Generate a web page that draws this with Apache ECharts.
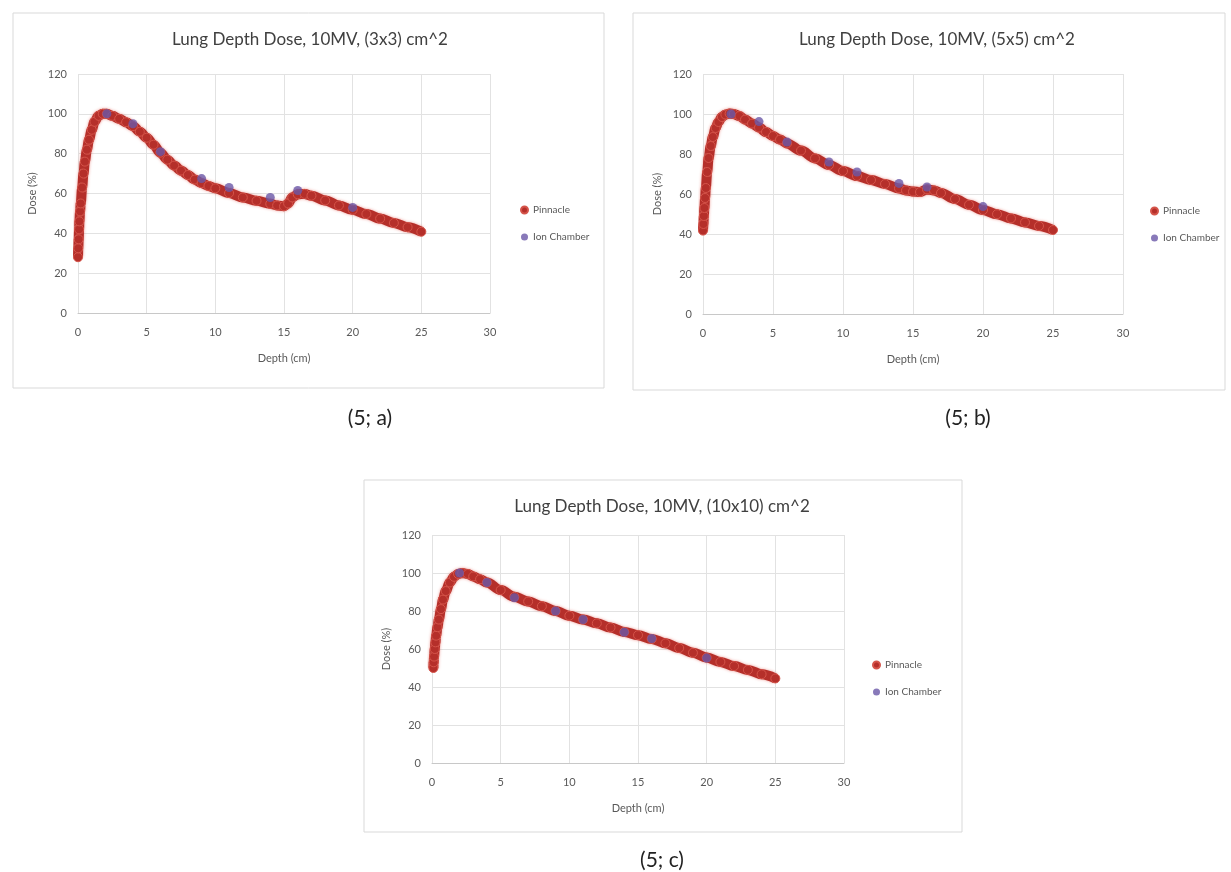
<!DOCTYPE html>
<html>
<head>
<meta charset="utf-8">
<script src="https://cdn.jsdelivr.net/npm/echarts@6/dist/echarts.min.js"></script>
<style>
  html, body { margin: 0; padding: 0; background: #fff; }
  #main { width: 1231px; height: 872px; }
</style>
</head>
<body>
<div id="main"></div>
<script>
// 读图得到的数据 (深度 cm, 剂量 %)
var depthA = [0, 0.02, 0.05, 0.08, 0.1, 0.15, 0.2, 0.3, 0.4, 0.5, 0.65, 0.8, 1.0, 1.2, 1.5, 1.8, 2.1, 2.5, 3, 3.5, 4, 4.5, 5, 5.5, 6, 6.5, 7, 7.5, 8, 8.5, 9, 9.5, 10, 11, 12, 13, 14, 14.5, 15, 15.3, 15.6, 16, 16.5, 17, 18, 19, 20, 21, 22, 23, 24, 25];
var doseA = [28, 32.5, 37, 42, 46, 51, 55, 63, 70, 76, 82, 87, 92, 96, 99, 100, 100, 99, 97.5, 95.8, 93.8, 91, 88, 84.5, 80.5, 77, 74, 71.5, 69.3, 67, 65.2, 63.8, 62.6, 60.2, 58, 56.3, 54.8, 54, 53.6, 55, 58, 59.6, 59.8, 58.9, 56.5, 54, 51.8, 49.7, 47.4, 45.2, 43.1, 40.8];
var ionDepthA = [2.1, 4, 6, 9, 11, 14, 16, 20];
var ionDoseA = [100, 95, 81, 67.5, 63, 58, 61.5, 53];

var depthB = [0, 0.03, 0.06, 0.1, 0.15, 0.2, 0.3, 0.4, 0.55, 0.7, 0.9, 1.1, 1.35, 1.6, 1.9, 2.2, 2.6, 3, 3.5, 4, 4.5, 5, 5.5, 6, 7, 8, 9, 10, 11, 12, 13, 14, 14.5, 15, 15.5, 16, 16.5, 17, 18, 19, 20, 21, 22, 23, 24, 25];
var doseB = [41.7, 45, 49, 53, 58, 63, 71, 78, 84, 88.5, 93, 96, 98.5, 99.7, 100.2, 100, 99, 97.2, 95.2, 93.2, 91, 89, 87.2, 85.3, 81.7, 77.8, 74.5, 71.5, 69, 67, 65, 62.8, 61.8, 61.2, 61, 62.3, 61.8, 60.5, 57.5, 54.6, 52, 49.9, 47.8, 45.8, 44, 42];
var ionDepthB = [2, 4, 6, 9, 11, 14, 16, 20];
var ionDoseB = [100, 96.2, 86, 76, 71, 65.3, 63.5, 53.7];

var depthC = [0.1, 0.12, 0.15, 0.2, 0.25, 0.3, 0.4, 0.5, 0.65, 0.8, 1.0, 1.3, 1.6, 1.9, 2.2, 2.6, 3, 3.5, 4, 5, 6, 7, 8, 9, 10, 11, 12, 13, 14, 15, 16, 17, 18, 19, 20, 21, 22, 23, 24, 25];
var doseC = [50, 53, 56, 60, 63.5, 67, 71.5, 75.5, 81, 86, 90.5, 95, 98, 99.5, 100, 99.5, 98.2, 96.7, 95, 91, 87.5, 85, 82.5, 80, 77.5, 75.5, 73.5, 71.3, 69, 67.3, 65.3, 63, 60.5, 58, 55.5, 53.2, 51, 49, 46.7, 44.5];
var ionDepthC = [2, 4, 6, 9, 11, 14, 16, 20];
var ionDoseC = [100, 95, 87, 80, 75.5, 68.8, 65.5, 55.2];

var titles = ['Lung Depth Dose, 10MV, (3x3) cm^2', 'Lung Depth Dose, 10MV, (5x5) cm^2', 'Lung Depth Dose, 10MV, (10x10) cm^2'];
var captions = ['(5; a)', '(5; b)', '(5; c)'];
var seriesNames = ['Pinnacle', 'Ion Chamber'];

var red = '#B52F2A';
var purple = '#6A57A8';
var font = 'Lato, "Open Sans", sans-serif';

function pairs(xs, ys) {
    var out = [];
    for (var i = 0; i < xs.length; i++) {
        out.push([xs[i], ys[i]]);
    }
    return out;
}

var myChart = echarts.init(document.getElementById('main'));

// 三个子图的位置
var grids = [
    {left: 78, top: 74, width: 412, height: 239},
    {left: 703, top: 74, width: 420, height: 240},
    {left: 432, top: 535, width: 412, height: 228}
];
var boxes = [[13, 13, 591, 375], [633, 13, 592, 377], [364, 480, 598, 352]];
var titlePos = [[310, 40], [937, 40], [662, 507]];
var captionPos = [[370, 418], [968, 418], [662, 860]];
var legendPos = [[515, 200], [1145, 201], [867, 655]];

var pinData = [pairs(depthA, doseA), pairs(depthB, doseB), pairs(depthC, doseC)];
var ionData = [pairs(ionDepthA, ionDoseA), pairs(ionDepthB, ionDoseB), pairs(ionDepthC, ionDoseC)];

var xAxes = [], yAxes = [], series = [], legends = [], graphics = [];

for (var k = 0; k < 3; k++) {
    xAxes.push({
        type: 'value', gridIndex: k, min: 0, max: 30, interval: 5,
        name: 'Depth (cm)', nameLocation: 'middle', nameGap: 40,
        nameTextStyle: {fontSize: 11, color: '#595959', fontFamily: font},
        axisLine: {lineStyle: {color: '#c8c8c8'}},
        axisTick: {show: false},
        axisLabel: {fontSize: 11, color: '#595959', margin: 14, fontFamily: font},
        splitLine: {lineStyle: {color: '#e2e2e2'}}
    });
    yAxes.push({
        type: 'value', gridIndex: k, min: 0, max: 120, interval: 20,
        name: 'Dose (%)', nameLocation: 'middle', nameGap: 40, nameRotate: 90,
        nameTextStyle: {fontSize: 11, color: '#595959', fontFamily: font},
        axisLine: {show: false},
        axisTick: {show: false},
        axisLabel: {fontSize: 11, color: '#595959', margin: 11, fontFamily: font},
        splitLine: {lineStyle: {color: '#e2e2e2'}}
    });
    series.push({
        name: seriesNames[0], type: 'line', xAxisIndex: k, yAxisIndex: k,
        data: pinData[k], smooth: 0.35, smoothMonotone: 'x',
        symbol: 'circle', symbolSize: 9, showAllSymbol: true,
        itemStyle: {color: red, borderColor: '#D5544A', borderWidth: 1},
        lineStyle: {color: red, width: 10, shadowColor: 'rgba(225,80,70,0.6)', shadowBlur: 3},
        z: 2, animation: false
    });
    series.push({
        name: seriesNames[1], type: 'scatter', xAxisIndex: k, yAxisIndex: k,
        data: ionData[k], symbol: 'circle', symbolSize: 9,
        itemStyle: {color: purple},
        z: 3, animation: false
    });
    legends.push({
        data: seriesNames, orient: 'vertical',
        left: legendPos[k][0], top: legendPos[k][1],
        itemWidth: 7, itemHeight: 7, itemGap: 17, icon: 'circle',
        textStyle: {fontSize: 10, color: '#595959', fontFamily: font},
        selectedMode: false
    });
    // 外框
    graphics.push({
        type: 'rect', z: -10,
        shape: {x: boxes[k][0], y: boxes[k][1], width: boxes[k][2], height: boxes[k][3]},
        style: {fill: '#fff', stroke: '#d9d9d9', lineWidth: 1}
    });
    graphics.push({
        type: 'text', x: titlePos[k][0], y: titlePos[k][1],
        style: {text: titles[k], fontSize: 17, fontFamily: font, fill: '#404040', align: 'center', verticalAlign: 'middle'}
    });
    graphics.push({
        type: 'text', x: captionPos[k][0], y: captionPos[k][1],
        style: {text: captions[k], fontSize: 21, fontFamily: font, fill: '#222', align: 'center', verticalAlign: 'middle'}
    });
}

var option = {
    backgroundColor: '#fff',
    color: [red, purple],
    grid: grids,
    xAxis: xAxes,
    yAxis: yAxes,
    legend: legends,
    graphic: graphics,
    series: series
};

myChart.setOption(option);
</script>
</body>
</html>
